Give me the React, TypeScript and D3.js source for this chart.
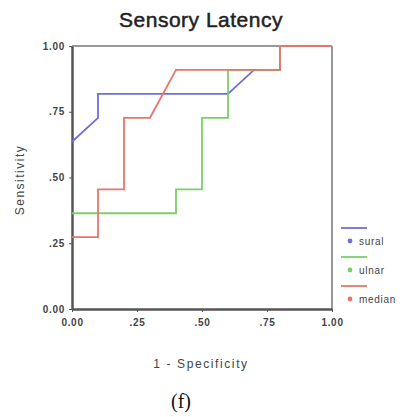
import { useRef, useEffect } from 'react';
import * as d3 from 'd3';

// ROC points (1 - specificity, sensitivity) for each latency
const suralX = [0, 0.1, 0.1, 0.6, 0.7, 0.8, 0.8, 1];
const suralY = [0.636, 0.727, 0.818, 0.818, 0.909, 0.909, 1, 1];
const ulnarX = [0, 0.4, 0.4, 0.5, 0.5, 0.6, 0.6, 0.8, 0.8, 1];
const ulnarY = [0.364, 0.364, 0.455, 0.455, 0.727, 0.727, 0.909, 0.909, 1, 1];
const medianX = [0, 0.1, 0.1, 0.2, 0.2, 0.3, 0.4, 0.8, 0.8, 1];
const medianY = [0.273, 0.273, 0.455, 0.455, 0.727, 0.727, 0.909, 0.909, 1, 1];

const seriesNames = ['sural', 'ulnar', 'median'];
const seriesColors = ['#6f6fd6', '#7ccf68', '#e8756b'];
const tickValues = [0, 0.25, 0.5, 0.75, 1];
const tickLabels = ['0.00', '.25', '.50', '.75', '1.00'];

const App = () => {
  const svgRef = useRef<SVGSVGElement>(null);

  useEffect(() => {
    const svg = d3.select(svgRef.current);
    svg.selectAll('*').remove();

    const left = 72, right = 332, top = 46, bottom = 309;
    const x = d3.scaleLinear().domain([0, 1]).range([left, right]);
    const y = d3.scaleLinear().domain([0, 1]).range([bottom, top]);
    const font = 'Arial, "Liberation Sans", sans-serif';

    svg.append('text')
      .attr('x', 201).attr('y', 27)
      .attr('text-anchor', 'middle')
      .attr('font-family', font).attr('font-size', 21)
      .attr('letter-spacing', 0.5)
      .attr('fill', '#222').attr('stroke', '#222').attr('stroke-width', 0.5)
      .text('Sensory Latency');

    // frame: top & right lighter, left & bottom darker
    svg.append('line').attr('x1', left).attr('x2', right).attr('y1', top).attr('y2', top)
      .attr('stroke', '#999').attr('stroke-width', 2);
    svg.append('line').attr('x1', right).attr('x2', right).attr('y1', top).attr('y2', bottom)
      .attr('stroke', '#999').attr('stroke-width', 2);

    const xAxis = svg.append('g').attr('transform', `translate(0,${bottom})`)
      .call(d3.axisBottom(x).tickValues(tickValues).tickSize(3).tickSizeOuter(0)
        .tickFormat((d, i) => tickLabels[i]));
    const yAxis = svg.append('g').attr('transform', `translate(${left},0)`)
      .call(d3.axisLeft(y).tickValues(tickValues).tickSize(3).tickSizeOuter(0)
        .tickFormat((d, i) => tickLabels[i]));
    [xAxis, yAxis].forEach(g => {
      g.select('.domain').attr('stroke', '#555').attr('stroke-width', 2.5);
      g.selectAll('.tick line').attr('stroke', '#555');
      g.selectAll('.tick text')
        .attr('font-family', font).attr('font-size', 10).attr('font-weight', 'bold')
        .attr('letter-spacing', 0.7)
        .attr('fill', '#444');
    });
    xAxis.selectAll('.tick text').attr('dy', '1.05em');
    yAxis.selectAll('.tick text').attr('x', -7);

    svg.append('text')
      .attr('transform', 'translate(24,180) rotate(-90)')
      .attr('text-anchor', 'middle')
      .attr('font-family', font).attr('font-size', 12).attr('letter-spacing', 1.5)
      .attr('fill', '#444')
      .text('Sensitivity');

    svg.append('text')
      .attr('x', 201).attr('y', 368)
      .attr('text-anchor', 'middle')
      .attr('font-family', font).attr('font-size', 12).attr('letter-spacing', 1.6)
      .attr('fill', '#444')
      .text('1 - Specificity');

    svg.append('text')
      .attr('x', 181).attr('y', 408)
      .attr('text-anchor', 'middle')
      .attr('font-family', '"Liberation Serif", "DejaVu Serif", serif').attr('font-size', 20)
      .attr('fill', '#111')
      .text('(f)');

    const line = d3.line<[number, number]>().x(d => x(d[0])).y(d => y(d[1]));
    const series = [
      d3.zip(suralX, suralY),
      d3.zip(ulnarX, ulnarY),
      d3.zip(medianX, medianY),
    ];
    series.forEach((pts, i) => {
      svg.append('path')
        .attr('d', line(pts as [number, number][]))
        .attr('fill', 'none')
        .attr('stroke', seriesColors[i])
        .attr('stroke-width', 1.8);
    });

    // legend
    seriesNames.forEach((name, i) => {
      const ly = 228 + i * 29;
      svg.append('line').attr('x1', 341).attr('x2', 367).attr('y1', ly).attr('y2', ly)
        .attr('stroke', seriesColors[i]).attr('stroke-width', 1.8);
      svg.append('circle').attr('cx', 350).attr('cy', ly + 13).attr('r', 2.4)
        .attr('fill', seriesColors[i]);
      svg.append('text').attr('x', 359).attr('y', ly + 17)
        .attr('font-family', font).attr('font-size', 10).attr('letter-spacing', 0.7)
        .attr('fill', '#444')
        .text(name);
    });
  }, []);

  return (
    <svg ref={svgRef} width={402} height={417}
      style={{ position: 'absolute', left: 0, top: 0, background: '#fff' }} />
  );
};

export default App;
